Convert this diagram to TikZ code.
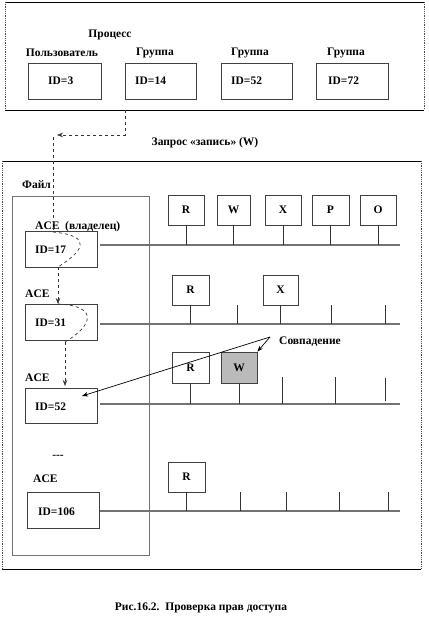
\documentclass[tikz,border=0pt]{standalone}
\usepackage{fontspec}
\setmainfont{Liberation Serif}
\usetikzlibrary{arrows.meta}
\begin{document}
\begin{tikzpicture}[x=1pt,y=-1pt,
  txt/.style={font=\fontsize{11.5}{13}\selectfont\bfseries, inner sep=0pt},
  idbox/.style={draw=black!75, line width=0.8pt, minimum width=72pt, minimum height=36pt, inner sep=0pt},
  permbox/.style={draw=black!75, line width=0.8pt, minimum width=36pt, minimum height=30pt, inner sep=0pt, font=\fontsize{11.5}{13}\selectfont\bfseries},
  hitbox/.style={permbox, fill=black!27},
  rowline/.style={draw=black!55, line width=1.6pt},
  stem/.style={draw=black!80, line width=0.7pt},
  frameside/.style={draw=black!70, line width=0.8pt, densely dotted},
  frametop/.style={draw=black, line width=0.9pt},
  flow/.style={draw=black!80, line width=0.7pt, dashed},
  tip/.style={-{Stealth[length=6pt,width=4.5pt]}},
]
\useasboundingbox (0,0) rectangle (428,623);

% ---------- process frame ----------
\coordinate (pf1) at (5,2); \coordinate (pf2) at (424,2);
\coordinate (pf3) at (424,110); \coordinate (pf4) at (5,110);
\draw[frametop] (pf1) -- (pf2);
\draw[frametop] (pf4) -- (pf3);
\draw[frameside] (pf1) -- (pf4);
\draw[frameside] (pf2) -- (pf3);

\node[txt] (proc) at (110,35) {Процесс};
\node[txt] (lu) at (62,53) {Пользователь};
\node[txt] (lg1) at (155,53) {Группа};
\node[txt] (lg2) at (250,53) {Группа};
\node[txt] (lg3) at (346,53) {Группа};

\node[idbox, minimum width=73pt] (p1) at (64.5,81) {};
\node[idbox, minimum width=71pt] (p2) at (160.5,81) {};
\node[idbox, minimum width=71pt] (p3) at (256.5,81) {};
\node[idbox, minimum width=72pt] (p4) at (352,81) {};
\node[txt, anchor=west] (p1t) at (48,81) {ID=3};
\node[txt, anchor=west] (p2t) at (135,81) {ID=14};
\node[txt, anchor=west] (p3t) at (231,81) {ID=52};
\node[txt, anchor=west] (p4t) at (328,81) {ID=72};

\node[txt] (req) at (205,143) {Запрос «запись» (W)};

% ---------- file frame ----------
\coordinate (ff1) at (2,161); \coordinate (ff2) at (421,161);
\coordinate (ff3) at (421,569); \coordinate (ff4) at (2,569);
\draw[frametop] (ff1) -- (ff2);
\draw[frametop] (ff4) -- (ff3);
\draw[frameside] (ff1) -- (ff4);
\draw[frameside] (ff2) -- (ff3);

\node[txt, anchor=west] (file) at (22,185) {Файл};
\node[draw=black!55, line width=0.9pt, minimum width=137pt, minimum height=359pt, inner sep=0pt] (panel) at (80.5,375.5) {};

% ACE entries
\node[txt, anchor=west] (a1l) at (35,227) {ACE\enspace(владелец)};
\node[idbox] (ace1) at (61,249) {};
\node[txt, anchor=west] (a1t) at (35,250) {ID=17};

\node[txt, anchor=west] (a2l) at (25,294) {ACE};
\node[idbox] (ace2) at (61,322) {};
\node[txt, anchor=west] (a2t) at (35,323) {ID=31};

\node[txt, anchor=west] (a3l) at (25,378) {ACE};
\node[idbox, minimum height=35pt] (ace3) at (61,405.5) {};
\node[txt, anchor=west] (a3t) at (35,407) {ID=52};

\node[txt] (dots) at (58,457) {{-}{-}{-}};

\node[txt, anchor=west] (a4l) at (33,479) {ACE};
\node[idbox] (ace4) at (63,510) {};
\node[txt, anchor=west] (a4t) at (38,512) {ID=106};

% ---------- rights rows ----------
% row 1
\coordinate (r1a) at (100,245); \coordinate (r1b) at (400,245);
\draw[rowline] (r1a) -- (r1b);
\node[permbox] (r1R) at (186,210) {R};
\node[permbox, minimum width=33pt] (r1W) at (233.5,210) {W};
\node[permbox] (r1X) at (283,210) {X};
\node[permbox, minimum width=37pt] (r1P) at (330.5,210) {P};
\node[permbox] (r1O) at (378,210) {O};
\foreach \b in {r1R,r1W,r1X,r1P,r1O} \draw[stem] (\b.south) -- (\b.south |- r1a);

% row 2
\coordinate (r2a) at (100,324); \coordinate (r2b) at (400,324);
\draw[rowline] (r2a) -- (r2b);
\node[permbox, minimum width=37pt] (r2R) at (190.5,290) {R};
\node[permbox, minimum width=35pt] (r2X) at (280.5,290) {X};
\foreach \b in {r2R,r2X} \draw[stem] (\b.south) -- (\b.south |- r2a);
\foreach \x in {237,331,385} {\coordinate (t) at (\x,305); \draw[stem] (t) -- (t |- r2a);}

% row 3
\coordinate (r3a) at (100,404); \coordinate (r3b) at (400,404);
\draw[rowline] (r3a) -- (r3b);
\node[permbox, minimum width=37pt, minimum height=31pt] (r3R) at (190.5,367.5) {R};
\node[hitbox, minimum width=36pt, minimum height=31pt] (r3W) at (239,367.5) {W};
\foreach \b in {r3R,r3W} \draw[stem] (\b.south) -- (\b.south |- r3a);
\foreach \x in {282,335} {\coordinate (t) at (\x,377); \draw[stem] (t) -- (t |- r3a);}
\coordinate (t3e) at (385,378); \coordinate (t3f) at (385,401);
\draw[stem] (t3e) -- (t3f);

% row 4
\coordinate (r4a) at (100,511); \coordinate (r4b) at (400,511);
\draw[rowline] (r4a) -- (r4b);
\node[permbox, minimum width=37pt] (r4R) at (186.5,477) {R};
\draw[stem] (r4R.south) -- (r4R.south |- r4a);
\foreach \x in {240,286,339,388} {\coordinate (t) at (\x,492); \draw[stem] (t) -- (t |- r4a);}

% ---------- match callout ----------
\node[txt, anchor=west] (match) at (279,342) {Совпадение};
\coordinate (mv) at (270,337);
\coordinate (mt1) at (82,396);
\draw[draw=black, line width=0.7pt, tip] (mv) -- (mt1);
\draw[draw=black, line width=0.7pt, tip] (mv) -- (r3W.north east);

% ---------- request flow ----------
\coordinate (q0) at (125,110);
\coordinate (q1) at (125,135);
\coordinate (q2) at (57,135);
\draw[flow, tip] (q0) -- (q1) -- (q2);
\coordinate (q3) at (53,137);
\coordinate (q4) at (53,232);
\draw[flow] (q3) -- (q4);
\coordinate (c1e) at (58,267);
\draw[flow] (q4) .. controls (95,236) and (82,252) .. (c1e);
\coordinate (c2s) at (58,304);
\draw[flow, tip] (c1e) -- (c2s);
\coordinate (c2e) at (65,342);
\draw[flow] (c2s) .. controls (100,306) and (92,326) .. (c2e);
\coordinate (c3s) at (65,386);
\draw[flow, tip] (c2e) -- (c3s);

% caption
\node[txt] (cap) at (201,608) {Рис.16.2.\enspace Проверка прав доступа};
\end{tikzpicture}
\end{document}
